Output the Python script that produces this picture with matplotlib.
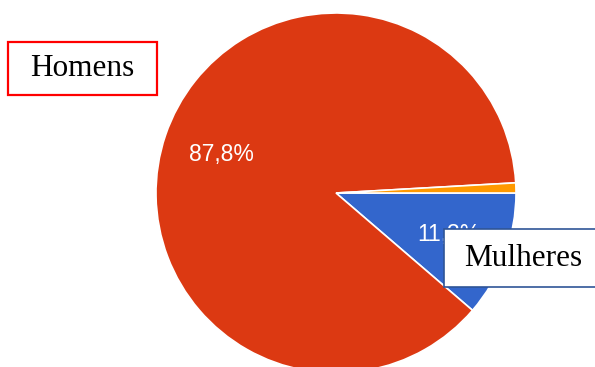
import matplotlib
matplotlib.use("Agg")
import matplotlib.pyplot as plt
from matplotlib.patches import Rectangle

# slices, clockwise from 3 o'clock
labels = ["Mulheres", "Homens", "Outro"]
values = [11.3, 87.8, 0.9]
colors = ["#3366CC", "#DC3912", "#FF9900"]

W, H = 595, 367

fig = plt.figure(figsize=(W / 100, H / 100), dpi=100)
ax = fig.add_axes([0, 0, 1, 1])


def pct(p):
    # only label the bigger slices, comma decimal
    return ("%.1f%%" % p).replace(".", ",") if p > 5 else ""


wedges, texts, autotexts = ax.pie(
    values, colors=colors, startangle=0, counterclock=False,
    center=(336, H - 193), radius=180, autopct=pct, pctdistance=0.67,
    wedgeprops=dict(edgecolor="white", linewidth=1.2),
    textprops=dict(color="white", fontsize=16.5, family="Liberation Sans"),
)

ax.set_xlim(0, W)
ax.set_ylim(0, H)
ax.set_aspect("equal")
ax.axis("off")

# callout boxes (pixel coords from top-left, flipped)
ax.add_patch(Rectangle((8, H - 95), 149, 53, facecolor="white",
                       edgecolor="#FF0000", linewidth=1.6, zorder=5))
ax.text(82, H - 68, "Homens", ha="center", va="center", fontsize=22.5,
        family="Liberation Serif", color="black", zorder=6)

ax.add_patch(Rectangle((444, H - 287), 160, 58, facecolor="white",
                       edgecolor="#2F5597", linewidth=1.2, zorder=5,
                       clip_on=False))
ax.text(523, H - 258, "Mulheres", ha="center", va="center", fontsize=22.5,
        family="Liberation Serif", color="black", zorder=6)

fig.savefig("out.png", dpi=100)
